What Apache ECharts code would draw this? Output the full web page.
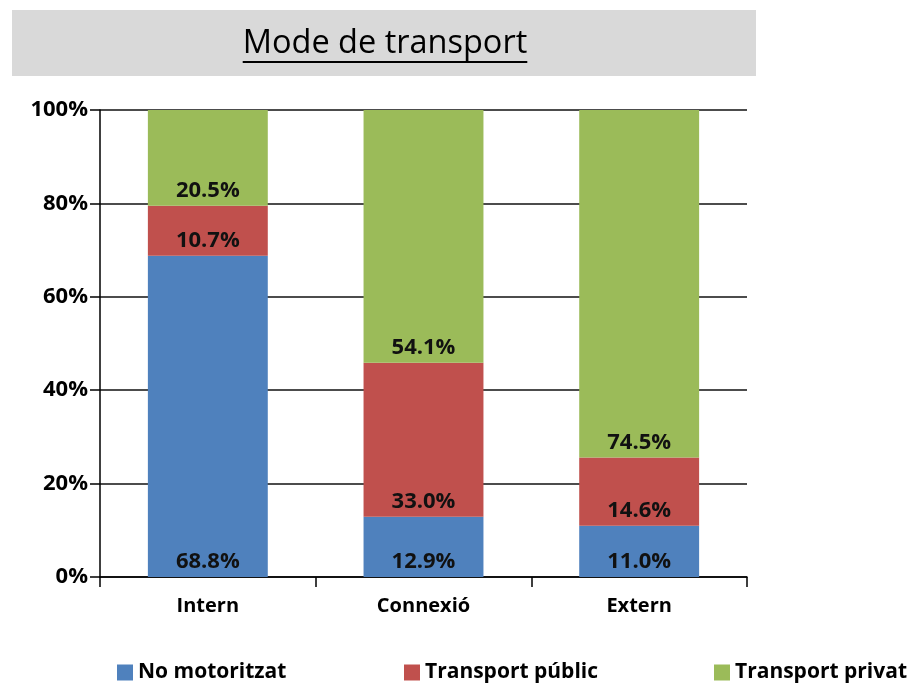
<!DOCTYPE html>
<html>
<head>
<meta charset="utf-8">
<script src="https://cdn.jsdelivr.net/npm/echarts@6/dist/echarts.min.js"></script>
<style>
  html, body { margin: 0; padding: 0; background: #fff; }
  #chart { width: 916px; height: 684px; }
</style>
</head>
<body>
<div id="chart"></div>
<script>
var categories = ['Intern', 'Connexió', 'Extern'];
var noMotoritzat = [68.8, 12.9, 11.0];
var transportPublic = [10.7, 33.0, 14.6];
var transportPrivat = [20.5, 54.1, 74.5];
var seriesNames = ['No motoritzat', 'Transport públic', 'Transport privat'];
var colors = ['#4F81BD', '#C0504D', '#9BBB59'];

var font = '"Open Sans"';
var titleText = 'Mode de transport';
var titleSize = 32.5;

var myChart = echarts.init(document.getElementById('chart'));

// mida del títol per posar el subratllat
var ctx = document.createElement('canvas').getContext('2d');
ctx.font = titleSize + 'px ' + font;
var titleW = ctx.measureText(titleText).width;
var titleCx = 385;

function makeSeries(name, data, color) {
    return {
        name: name,
        type: 'bar',
        stack: 'total',
        barWidth: '55.6%',
        data: data,
        itemStyle: { color: color },
        label: {
            show: true,
            position: 'insideBottom',
            distance: 4,
            formatter: function (p) { return p.value.toFixed(1) + '%'; },
            color: '#111',
            fontFamily: font,
            fontWeight: 'bold',
            fontSize: 22
        }
    };
}

// una llegenda per element, per situar-les com a l'original
var legendLeft = [117, 404, 714];
function makeLegend(i) {
    return {
        data: [seriesNames[i]],
        left: legendLeft[i],
        top: 662,
        padding: 0,
        itemWidth: 16,
        itemHeight: 16,
        icon: 'rect',
        textStyle: {
            fontFamily: font,
            fontWeight: 'bold',
            fontSize: 21,
            color: '#000',
            padding: [0, 0, 0, 0]
        }
    };
}

var option = {
    animation: false,
    graphic: [
        {
            type: 'rect',
            shape: { x: 12, y: 10, width: 744, height: 66 },
            style: { fill: '#D9D9D9' },
            z: -1
        },
        {
            type: 'text',
            x: titleCx,
            y: 44,
            style: {
                text: titleText,
                font: titleSize + 'px ' + font,
                fill: '#000',
                align: 'center',
                verticalAlign: 'middle'
            }
        },
        {
            type: 'line',
            shape: { x1: titleCx - titleW / 2, y1: 62, x2: titleCx + titleW / 2, y2: 62 },
            style: { stroke: '#000', lineWidth: 2 }
        }
    ],
    legend: [makeLegend(0), makeLegend(1), makeLegend(2)],
    grid: {
        left: 100,
        right: 169,
        top: 110,
        bottom: 107,
        containLabel: false
    },
    xAxis: {
        type: 'category',
        data: categories,
        axisLine: { lineStyle: { color: '#000', width: 1.5 } },
        axisTick: { show: true, length: 10, lineStyle: { color: '#000', width: 1.5 } },
        axisLabel: {
            margin: 19,
            color: '#000',
            fontFamily: font,
            fontWeight: 'bold',
            fontSize: 20
        }
    },
    yAxis: {
        type: 'value',
        min: 0,
        max: 100,
        interval: 20,
        axisLine: { show: true, lineStyle: { color: '#000', width: 1.5 } },
        axisTick: { show: true, length: 10, lineStyle: { color: '#000', width: 1.5 } },
        splitLine: { lineStyle: { color: '#111', width: 1.5 } },
        axisLabel: {
            margin: 12,
            formatter: '{value}%',
            color: '#000',
            fontFamily: font,
            fontWeight: 'bold',
            fontSize: 22
        }
    },
    series: [
        makeSeries(seriesNames[0], noMotoritzat, colors[0]),
        makeSeries(seriesNames[1], transportPublic, colors[1]),
        makeSeries(seriesNames[2], transportPrivat, colors[2])
    ]
};

myChart.setOption(option);
</script>
</body>
</html>
